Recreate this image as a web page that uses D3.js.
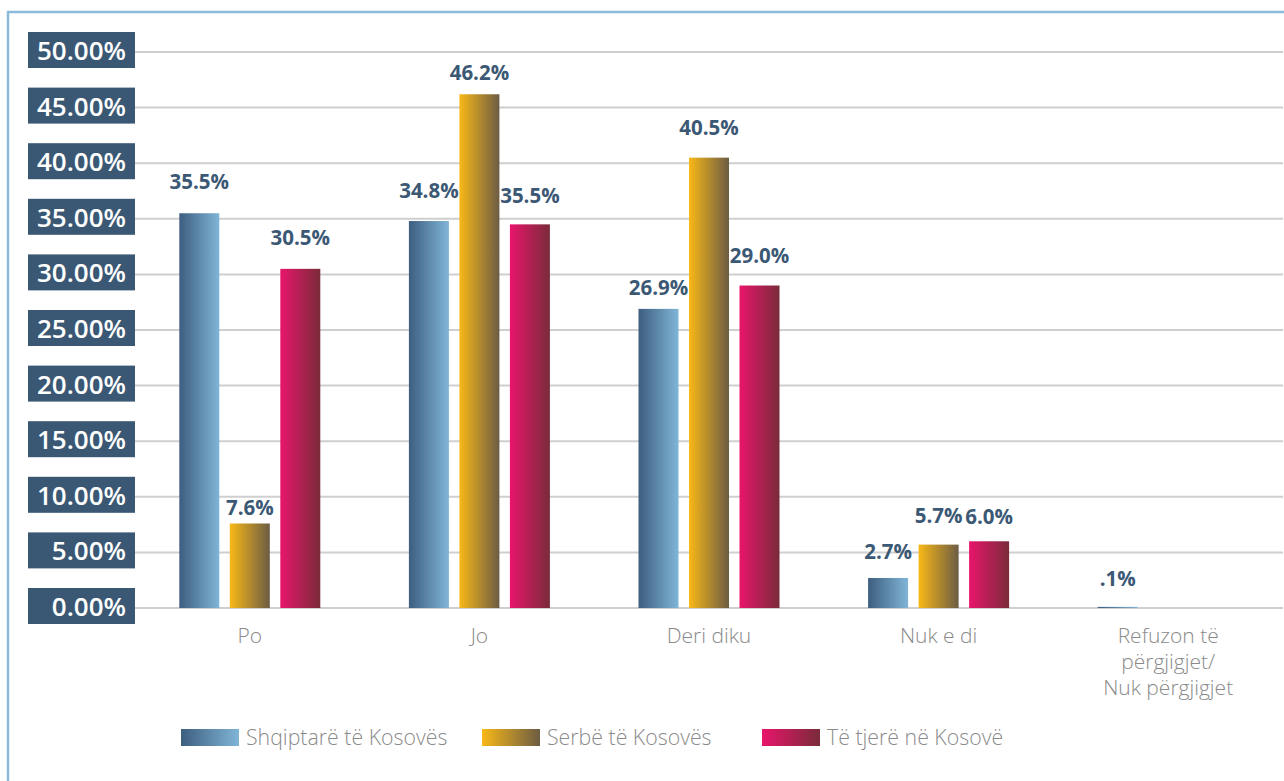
<!DOCTYPE html>
<html>
<head>
<meta charset="utf-8">
<script src="https://cdn.jsdelivr.net/npm/d3@7"></script>
<style>
  body { margin: 0; background: #fff; }
  text { font-family: "Open Sans", sans-serif; }
</style>
</head>
<body>
<div class="chart"></div>
<script>
// data
var categories = ["Po", "Jo", "Deri diku", "Nuk e di", "Refuzon të|përgjigjet/|Nuk përgjigjet"];
var seriesNames = ["Shqiptarë të Kosovës", "Serbë të Kosovës", "Të tjerë në Kosovë"];
var albanians = [35.5, 34.8, 26.9, 2.7, 0.1];
var serbs = [7.6, 46.2, 40.5, 5.7, 0];
var others = [30.5, 34.5, 29.0, 6.0, 0];
// printed labels (the source prints 35.5% on a ~34.5% bar)
var albaniansLabels = ["35.5%", "34.8%", "26.9%", "2.7%", ".1%"];
var serbsLabels = ["7.6%", "46.2%", "40.5%", "5.7%", ""];
var othersLabels = ["30.5%", "35.5%", "29.0%", "6.0%", ""];
var yTicks = [0, 5, 10, 15, 20, 25, 30, 35, 40, 45, 50];

// layout
var svgWidth = 1284;
var svgHeight = 781;
var plot = { left: 135, right: 1283, top: 52, bottom: 608 };
// gap in px between bar top and label baseline, per category/series
var labelGap = [[24, 8, 24], [23, 14, 21], [14, 23, 23], [19, 22, 17], [21, 21, 21]];
var legendX = [181, 482, 762];

var gradients = [
  ["#3d5e7f", "#80b5d7"],
  ["#f8b817", "#6c5c44"],
  ["#e8156b", "#7a2b3a"]
];
var labelColor = "#3b5875";

var svg = d3.select(".chart")
  .append("svg")
  .attr("width", svgWidth)
  .attr("height", svgHeight);

var defs = svg.append("defs");
gradients.forEach(function(g, i) {
  var lg = defs.append("linearGradient")
    .attr("id", "grad" + i)
    .attr("x1", "0%").attr("x2", "100%")
    .attr("y1", "0%").attr("y2", "0%");
  lg.append("stop").attr("offset", "0%").attr("stop-color", g[0]);
  lg.append("stop").attr("offset", "100%").attr("stop-color", g[1]);
});

//frame lines on left and top
svg.append("line")
  .attr("x1", 8).attr("x2", 8).attr("y1", 11).attr("y2", svgHeight)
  .attr("stroke", "#8dbbdc").attr("stroke-width", 2.5);
svg.append("line")
  .attr("x1", 7).attr("x2", svgWidth).attr("y1", 12).attr("y2", 12)
  .attr("stroke", "#8dbbdc").attr("stroke-width", 2.5);

var y = d3.scaleLinear()
  .domain([0, 50])
  .range([plot.bottom, plot.top]);

var x0 = d3.scaleBand()
  .domain(d3.range(categories.length))
  .range([plot.left, plot.right]);

var x1 = d3.scaleBand()
  .domain(d3.range(seriesNames.length))
  .range([-70.5, 70.5])
  .paddingInner(0.208);

//gridlines
svg.append("g")
  .selectAll("line")
  .data(yTicks)
  .enter()
  .append("line")
  .attr("x1", plot.left)
  .attr("x2", plot.right)
  .attr("y1", d => y(d))
  .attr("y2", d => y(d))
  .attr("stroke", "#cfcfcf")
  .attr("stroke-width", 2);

//y tick labels in dark boxes
var tickG = svg.append("g")
  .selectAll("g")
  .data(yTicks)
  .enter()
  .append("g")
  .attr("transform", d => `translate(0, ${y(d)})`);

tickG.append("rect")
  .attr("x", 28)
  .attr("y", -20)
  .attr("width", 107)
  .attr("height", 36)
  .attr("fill", "#3a5874");

tickG.append("text")
  .attr("x", 126)
  .attr("y", 8)
  .attr("text-anchor", "end")
  .attr("fill", "#fff")
  .attr("font-size", 26)
  .attr("font-weight", 600)
  .text(d => d.toFixed(2) + "%");

//bars
var series = [albanians, serbs, others];
var seriesLabels = [albaniansLabels, serbsLabels, othersLabels];

var barData = [];
categories.forEach(function(c, ci) {
  series.forEach(function(s, si) {
    barData.push({ ci: ci, si: si, value: s[ci], label: seriesLabels[si][ci] });
  });
});

var catCenter = ci => x0(ci) + x0.bandwidth() / 2;

svg.append("g")
  .selectAll("rect")
  .data(barData)
  .enter()
  .append("rect")
  .attr("x", d => catCenter(d.ci) + x1(d.si))
  .attr("y", d => y(d.value))
  .attr("width", x1.bandwidth())
  .attr("height", d => y(0) - y(d.value))
  .attr("fill", d => `url(#grad${d.si})`);

svg.append("g")
  .selectAll("text")
  .data(barData.filter(d => d.label !== ""))
  .enter()
  .append("text")
  .attr("x", d => catCenter(d.ci) + x1(d.si) + x1.bandwidth() / 2)
  .attr("y", d => y(d.value) - labelGap[d.ci][d.si])
  .attr("text-anchor", "middle")
  .attr("fill", labelColor)
  .attr("font-size", 20.5)
  .attr("font-weight", 700)
  .text(d => d.label);

//category labels, split on |
var catText = svg.append("g")
  .selectAll("text")
  .data(categories)
  .enter()
  .append("text")
  .attr("x", (d, i) => catCenter(i))
  .attr("y", 643)
  .attr("text-anchor", "middle")
  .attr("fill", "#8a8a8a")
  .attr("font-size", 21)
  .attr("font-weight", 300);

catText.selectAll("tspan")
  .data(d => d.split("|"))
  .enter()
  .append("tspan")
  .attr("x", function() { return d3.select(this.parentNode).attr("x"); })
  .attr("dy", (d, i) => i === 0 ? 0 : 26)
  .text(d => d);

//legend
var legend = svg.append("g")
  .selectAll("g")
  .data(seriesNames)
  .enter()
  .append("g")
  .attr("transform", (d, i) => `translate(${legendX[i]}, 729)`);

legend.append("rect")
  .attr("width", 58)
  .attr("height", 17)
  .attr("fill", (d, i) => `url(#grad${i})`);

legend.append("text")
  .attr("x", 65)
  .attr("y", 16)
  .attr("fill", "#8a8a8a")
  .attr("font-size", 21.3)
  .attr("font-weight", 300)
  .text(d => d);
</script>
</body>
</html>
